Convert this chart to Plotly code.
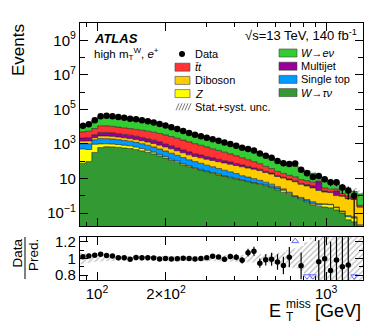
import numpy as np
import plotly.graph_objects as go

# E_T^miss bin edges [GeV]
edges = [84.3, 89.4, 94.9, 100.7, 106.9, 113.4, 120.3, 127.6, 135.4, 143.7,
         152.5, 161.8, 171.6, 182.1, 193.2, 205.0, 217.5, 230.8, 244.9, 259.8,
         275.7, 292.5, 310.3, 329.3, 349.4, 370.7, 393.3, 417.3, 442.8, 469.8,
         498.5, 528.9, 561.2, 595.4, 631.7, 670.3, 711.2, 754.6, 800.6, 849.5,
         901.3, 956.3, 1014.7, 1076.6, 1142.3, 1212.0, 1286.0, 1364.5, 1447.7]

data = [11120, 14010, 23820, 40530, 42120, 40480, 35860, 32620, 29010, 26560,
        23520, 20600, 17600, 14450, 11740, 9210, 7260, 5600, 4350, 3430,
        2790, 2300, 1880, 1515, 1195, 990, 780, 605, 515, 412,
        279, 204, 157, 103, 75, 68, 73, 32, 20, 12,
        14, 9, 6, 6, 3, 2, 1, 0]

w_enu = [5995, 8160, 15114, 27406, 29565, 28886, 26128, 23773, 21565, 19331,
         17129, 14924, 12742, 10512, 8437, 6603, 5147, 3920, 3036, 2415,
         1953, 1614, 1306, 1065, 872, 706, 566, 460, 360, 285,
         224, 157.5, 121, 82, 62.3, 51.6, 39.5, 26.5, 20.5, 14.0,
         7.2, 6.2, 4.6, 3.6, 2.0, 1.2, 1.0, 1.0]
ttbar = [2725, 3128, 4351, 6562, 6480, 6092, 5503, 5007, 4512, 4155,
         3814, 3485, 3133, 2716, 2301, 1888, 1533, 1210, 966, 759,
         608, 481, 368, 293, 226, 172, 129, 98, 71, 52,
         37.5, 24, 16.8, 10.8, 7.8, 6.0, 5.2, 3.4, 3.0, 2.2,
         1.0, 0.9, 0.7, 0.6, 0.3, 0.25, 0.15, 0.05]
multijet = [720, 816, 1145, 1737, 1701, 1611, 1420, 1292, 1172, 999,
            842, 697, 563, 453, 342, 260, 197, 146, 113, 86,
            70, 55, 44, 35, 28, 22, 17, 13, 10, 7.3,
            5.4, 3.8, 2.7, 1.7, 1.3, 1.0, 0.9, 0.6, 0.8, 1.0,
            4.3, 0.3, 0.2, 0.9, 0.1, 0.05, 0.02, 0.01]
diboson = [436, 476, 573, 849, 851, 825, 746, 678, 601, 552,
           515, 451, 405, 336, 283, 233, 183, 146, 113, 93,
           81, 71, 63, 56, 49, 43, 37, 33, 28, 24.6,
           21, 16, 13.3, 9.7, 8.0, 6.7, 5.5, 3.8, 3.1, 2.4,
           1.7, 1.3, 1.2, 0.8, 0.8, 0.6, 0.55, 0.2]
single_top = [512, 544, 756, 1042, 1013, 943, 852, 743, 674, 579,
              491, 410, 334, 263, 201, 158, 117, 90, 65, 52,
              42, 32, 26, 20, 16, 12, 9, 6, 5, 3.9,
              2.7, 1.9, 1.4, 0.86, 0.41, 0.2, 0.05, 0.1, 0.1, 0.1,
              0.05, 0.02, 0.02, 0.02, 0.01, 0.01, 0.01, 0.01]
z_ll = [436, 381, 641, 386, 324, 314, 284, 258, 234, 184,
        140, 103, 70, 44, 35, 19, 15, 11, 7, 5,
        3, 2, 2, 2, 1, 1, 1, 0.6, 0.5, 0.4,
        0.6, 0.4, 0.3, 0.3, 0.49, 0.2, 0.05, 0.1, 0.05, 0.05,
        0.05, 0.1, 0.1, 0.05, 0.02, 0.02, 0.02, 0.01]
w_taunu = [76, 95, 321, 618, 689, 668, 639, 581, 542, 473,
           398, 328, 264, 204, 153, 112, 88, 62, 48, 38,
           31, 25, 20, 16, 13, 11, 9.3, 7.8, 6.5, 5.5,
           4.5, 3.8, 3.0, 2.2, 1.6, 1.2, 0.9, 0.6, 0.45, 0.3,
           0.25, 0.22, 0.2, 0.15, 0.1, 0.04, 0.03, 0]

# relative stat.+syst. uncertainty on the prediction
rel_unc = [0.07, 0.05, 0.04, 0.035, 0.03, 0.03, 0.03, 0.03, 0.03, 0.03,
           0.03, 0.03, 0.03, 0.03, 0.03, 0.03, 0.03, 0.03, 0.03, 0.03,
           0.03, 0.032, 0.034, 0.036, 0.038, 0.04, 0.04, 0.042, 0.045, 0.048,
           0.05, 0.055, 0.06, 0.07, 0.08, 0.1, 0.12, 0.15, 0.2, 0.25,
           0.3, 0.35, 0.4, 0.45, 0.5, 0.55, 0.6, 0.6]

# stacking order, bottom to top
stack = [
    ("W→τν", w_taunu, "#339933"),
    ("Z", z_ll, "#ffff00"),
    ("Single top", single_top, "#0099ff"),
    ("Diboson", diboson, "#ffcc00"),
    ("Multijet", multijet, "#990099"),
    ("ttbar", ttbar, "#ff3333"),
    ("W→eν", w_enu, "#33cc33"),
]

FONT = "Liberation Sans, Arial, sans-serif"
OFF = 8                                 # page body margin of the html
W, H = 382 - OFF, 323 - OFF
L, R, T, B = 80, 363, 23, 280           # plot frame, screen pixels
MAIN_BOT, RAT_TOP = 226, 237


def xp(px):
    return (px - L) / (R - L)


def yp(py):
    return (B - py) / (B - T)


xs = np.array(edges)
centers = np.sqrt(xs[:-1] * xs[1:])
n = np.array(data, dtype=float)
floor = 1e-3

fig = go.Figure()

# baseline for the first filled layer
fig.add_trace(go.Scatter(x=xs, y=np.full(len(xs), floor), mode="lines",
                         line=dict(width=0), showlegend=False, hoverinfo="skip"))
cum = np.full(len(data), floor)
for name, vals, col in stack:
    cum = cum + np.array(vals, dtype=float)
    fig.add_trace(go.Scatter(
        x=xs, y=np.append(cum, cum[-1]), mode="lines", name=name,
        line=dict(color="#1a1a1a", width=0.6, shape="hv"),
        fill="tonexty", fillcolor=col, showlegend=False, hoverinfo="skip"))

pred = cum - floor
unc = np.array(rel_unc)

# hatched uncertainty band on the total
lo = pred * (1 - unc)
hi = pred * (1 + unc)
fig.add_trace(go.Scatter(x=xs, y=np.append(lo, lo[-1]), mode="lines",
                         line=dict(width=0, shape="hv"), showlegend=False, hoverinfo="skip"))
fig.add_trace(go.Scatter(x=xs, y=np.append(hi, hi[-1]), mode="lines",
                         line=dict(width=0, shape="hv"), fill="tonexty",
                         fillcolor="rgba(0,0,0,0)",
                         fillpattern=dict(shape="/", fgcolor="#666", bgcolor="rgba(0,0,0,0)",
                                          size=4, solidity=0.3),
                         showlegend=False, hoverinfo="skip"))

# data
ok = n > 0
fig.add_trace(go.Scatter(
    x=centers[ok], y=n[ok], mode="markers",
    marker=dict(color="black", size=6.5),
    error_y=dict(type="data", array=np.sqrt(n[ok]), color="black", thickness=1.2, width=0),
    showlegend=False, hoverinfo="skip"))

# ratio panel
r_lo, r_hi = 0.74, 1.26
fig.add_trace(go.Scatter(x=xs, y=np.append(1 - unc, 1 - unc[-1]), mode="lines",
                         line=dict(width=0, shape="hv"), xaxis="x2", yaxis="y2",
                         showlegend=False, hoverinfo="skip"))
fig.add_trace(go.Scatter(x=xs, y=np.append(1 + unc, 1 + unc[-1]), mode="lines",
                         line=dict(width=0, shape="hv"), fill="tonexty",
                         fillcolor="rgba(0,0,0,0)",
                         fillpattern=dict(shape="/", fgcolor="#777", bgcolor="rgba(0,0,0,0)",
                                          size=4, solidity=0.3),
                         xaxis="x2", yaxis="y2", showlegend=False, hoverinfo="skip"))

ratio = np.where(ok, n / pred, np.nan)
rerr = np.where(ok, np.sqrt(n) / pred, np.nan)
inside = ok & (ratio >= r_lo) & (ratio <= r_hi)
fig.add_trace(go.Scatter(
    x=centers[inside], y=ratio[inside], mode="markers",
    marker=dict(color="black", size=5.5),
    error_y=dict(type="data", array=rerr[inside], color="black", thickness=1.2, width=0),
    xaxis="x2", yaxis="y2", showlegend=False, hoverinfo="skip"))
up = ok & (ratio > r_hi)
down = ok & (ratio < r_lo)
fig.add_trace(go.Scatter(x=centers[up], y=np.full(up.sum(), 1.21), mode="markers",
                         marker=dict(symbol="triangle-up-open", color="#6a6aff", size=6),
                         xaxis="x2", yaxis="y2", showlegend=False, hoverinfo="skip"))
fig.add_trace(go.Scatter(x=centers[down], y=np.full(down.sum(), 0.785), mode="markers",
                         marker=dict(symbol="triangle-down-open", color="#6a6aff", size=6),
                         xaxis="x2", yaxis="y2", showlegend=False, hoverinfo="skip"))

axis_common = dict(showline=True, linecolor="black", linewidth=1.3, mirror="ticks",
                   ticks="inside", tickcolor="black", tickwidth=1, showgrid=False,
                   zeroline=False, tickfont=dict(family=FONT, size=15, color="black"))

xrange = [np.log10(edges[0]), np.log10(edges[-1])]
xminor = dict(tickmode="array", tickvals=[90, 300, 400, 500, 600, 700, 800, 900],
              ticks="inside", ticklen=4, tickcolor="black")

fig.update_layout(
    width=W, height=H,
    margin=dict(l=L - OFF, r=382 - R, t=T - OFF, b=323 - B, pad=0),
    paper_bgcolor="white", plot_bgcolor="white",
    showlegend=False,
    xaxis=dict(type="log", range=xrange, domain=[0, 1], anchor="y",
               tickmode="array", tickvals=[100, 200, 1000], ticklen=8,
               showticklabels=False, minor=xminor, **axis_common),
    yaxis=dict(type="log", range=[-1.75, 10], domain=[yp(MAIN_BOT), 1], anchor="x",
               tickmode="array",
               tickvals=[1e-1, 1e1, 1e3, 1e5, 1e7, 1e9],
               ticktext=["10<sup>−1</sup>", "10", "10<sup>3</sup>", "10<sup>5</sup>",
                         "10<sup>7</sup>", "10<sup>9</sup>"],
               ticklen=8,
               minor=dict(tickmode="array", tickvals=[1, 1e2, 1e4, 1e6, 1e8],
                          ticks="inside", ticklen=5, tickcolor="black"),
               **axis_common),
    xaxis2=dict(type="log", range=xrange, domain=[0, 1], anchor="y2", matches="x",
                tickmode="array", tickvals=[100, 200, 1000],
                ticktext=["10<sup>2</sup>", "2×10<sup>2</sup>", "10<sup>3</sup>"],
                ticklen=8, minor=xminor, **axis_common),
    yaxis2=dict(range=[r_lo, r_hi], domain=[0, yp(RAT_TOP)], anchor="x2",
                tickmode="array", tickvals=[0.8, 1, 1.2], ticktext=["0.8", "1", "1.2"],
                ticklen=8,
                minor=dict(tickmode="array", tickvals=[0.9, 1.1], ticks="inside",
                           ticklen=4, tickcolor="black"),
                **axis_common),
)

ann = []
shapes = []


def text(px, py, s, size=11, xanchor="left", angle=0, yanchor="middle"):
    ann.append(dict(x=xp(px), y=yp(py), xref="paper", yref="paper", text=s,
                    showarrow=False, xanchor=xanchor, yanchor=yanchor, textangle=angle,
                    font=dict(family=FONT, size=size, color="black")))


text(92, 38, "<b><i>ATLAS</i></b>", size=13)
text(92, 54, "high m<sub>T</sub><sup>W</sup>, <i>e</i><sup>+</sup>", size=11.5)
text(359, 35, "√s=13 TeV, 140 fb<sup>-1</sup>", size=13, xanchor="right")

# legend, left column
left_rows = [("Data", None), ("<i>t̄t</i>", "#ff3333"), ("Diboson", "#ffcc00"),
             ("<i>Z</i>", "#ffff00"), ("Stat.+syst. unc.", "hatch")]
for i, (lab, col) in enumerate(left_rows):
    yc = 54 + 13.2 * i
    text(193, yc, lab, size=11)
    if col is None:
        shapes.append(dict(type="circle", xref="paper", yref="paper",
                           x0=xp(179), x1=xp(185), y0=yp(yc + 3), y1=yp(yc - 3),
                           fillcolor="black", line=dict(width=0)))
    elif col == "hatch":
        for k in range(5):
            x0 = 176 + 3 * k
            shapes.append(dict(type="line", xref="paper", yref="paper",
                               x0=xp(x0), x1=xp(x0 + 3), y0=yp(yc + 3.5), y1=yp(yc - 3.5),
                               line=dict(color="#777", width=1)))
    else:
        shapes.append(dict(type="rect", xref="paper", yref="paper",
                           x0=xp(175), x1=xp(190), y0=yp(yc + 4), y1=yp(yc - 4),
                           fillcolor=col, line=dict(color="#444", width=0.6)))

# legend, right column
right_rows = [("<i>W</i>→<i>eν</i>", "#33cc33"), ("Multijet", "#990099"),
              ("Single top", "#0099ff"), ("<i>W</i>→<i>τν</i>", "#339933")]
for i, (lab, col) in enumerate(right_rows):
    yc = 53 + 13.2 * i
    text(299, yc, lab, size=11)
    shapes.append(dict(type="rect", xref="paper", yref="paper",
                       x0=xp(279), x1=xp(297), y0=yp(yc + 4), y1=yp(yc - 4),
                       fillcolor=col, line=dict(color="#444", width=0.6)))

# axis titles
text(18, 22, "Events", size=17, angle=-90, xanchor="center", yanchor="top")
text(17, 237, "Data", size=13.5, angle=-90, xanchor="center", yanchor="top")
text(33, 237, "Pred.", size=13.5, angle=-90, xanchor="center", yanchor="top")
shapes.append(dict(type="line", xref="paper", yref="paper",
                   x0=xp(25), x1=xp(25), y0=yp(237), y1=yp(279),
                   line=dict(color="black", width=1)))
text(283, 311, "E", size=18, xanchor="right")
text(284, 304, "miss", size=12)
text(284, 317, "T", size=12)
text(363, 311, "[GeV]", size=18, xanchor="right")

fig.update_layout(annotations=ann, shapes=shapes)
fig.write_html("out.html")
